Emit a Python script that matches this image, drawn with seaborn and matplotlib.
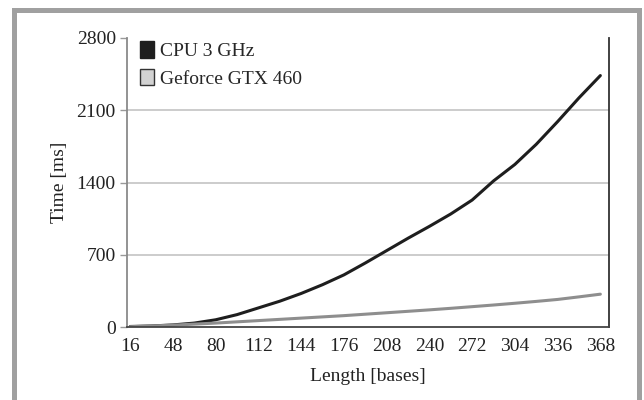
import matplotlib
matplotlib.use("Agg")
import matplotlib.pyplot as plt
from matplotlib.patches import Rectangle, Patch
import pandas as pd
import seaborn as sns

# values
lengths = [16, 32, 48, 64, 80, 96, 112, 128, 144, 160, 176, 192,
           208, 224, 240, 256, 272, 288, 304, 320, 336, 352, 368]
cpu_ms = [5, 10, 20, 38, 70, 120, 185, 250, 325, 410, 505, 620,
          740, 860, 975, 1095, 1230, 1415, 1575, 1770, 1990, 2220, 2436]
gpu_ms = [3, 10, 18, 28, 38, 50, 62, 74, 86, 98, 110, 124,
          138, 152, 166, 181, 197, 213, 230, 248, 267, 292, 318]
series_names = ["CPU 3 GHz", "Geforce GTX 460"]
x_ticks = list(range(16, 369, 32))
y_ticks = [0, 700, 1400, 2100, 2800]

df = pd.DataFrame({
    "length": lengths * 2,
    "time": cpu_ms + gpu_ms,
    "device": [series_names[0]] * len(lengths) + [series_names[1]] * len(lengths),
})

sns.set_style("white")
plt.rcParams["font.family"] = ["Liberation Serif", "DejaVu Serif"]

fig = plt.figure(figsize=(6.44, 4.0), dpi=100)
ax = fig.add_axes([0.197, 0.1825, 0.7487, 0.7225])

# horizontal guide lines, none at the top of the axis
for yv in y_ticks[1:-1]:
    ax.axhline(yv, color="#c8c8c8", linewidth=1.3, zorder=0)

palette = {series_names[0]: "#1e1e1e", series_names[1]: "#8e8e8e"}
sns.lineplot(data=df, x="length", y="time", hue="device", palette=palette,
             linewidth=2.2, legend=False, ax=ax)

ax.set_xlim(13.5, 374.5)
ax.set_ylim(0, 2800)
ax.set_xticks(x_ticks)
ax.set_yticks(y_ticks)
ax.tick_params(axis="both", labelsize=14, colors="#222222")
ax.tick_params(axis="x", length=0, pad=8)
ax.tick_params(axis="y", length=5, width=1, color="#999999", pad=3, left=True)

ax.spines["top"].set_visible(False)
ax.spines["left"].set_color("#8a8a8a")
ax.spines["left"].set_linewidth(1.3)
ax.spines["bottom"].set_color("#444444")
ax.spines["bottom"].set_linewidth(1.3)
ax.spines["right"].set_color("#333333")
ax.spines["right"].set_linewidth(1.3)

ax.set_xlabel("Length [bases]", fontsize=14, color="#222222", labelpad=9)
ax.set_ylabel("Time [ms]", fontsize=14, color="#222222", labelpad=6)

handles = [Patch(facecolor="#1e1e1e", edgecolor="#1e1e1e"),
           Patch(facecolor="#d2d2d2", edgecolor="#333333")]
ax.legend(handles, series_names, loc="upper left", frameon=False,
          fontsize=14, handlelength=0.7, handleheight=0.9,
          handletextpad=0.3, labelspacing=0.45,
          bbox_to_anchor=(0.0, 1.035), borderaxespad=0.3)

# grey frame around the figure
fig.patches.append(Rectangle((0.021, -0.05), 0.972, 1.024, transform=fig.transFigure,
                             fill=False, edgecolor="#a0a0a0", linewidth=3.6))

fig.savefig("out.png", dpi=100)
